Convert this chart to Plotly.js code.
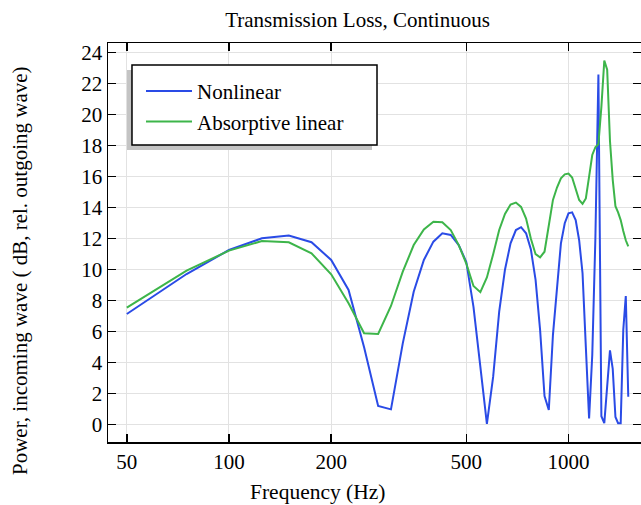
<!DOCTYPE html>
<html>
<head>
<meta charset="utf-8">
<script src="https://cdn.plot.ly/plotly-3.0.1.min.js"></script>
<style>html,body{margin:0;padding:0;background:#fff;}#chart{width:641px;height:505px;}</style>
</head>
<body>
<div id="chart"></div>
<script>
// Frequencies (Hz)
var freq = [50,75,100,125,150,175,200,225,250,275,300,325,350,375,400,425,450,475,500,525,550,575,600,625,650,675,700,725,750,775,800,825,850,875,900,925,950,975,1000,1025,1050,1075,1100,1125,1150,1175,1200,1225,1250,1275,1300,1325,1350,1375,1400,1425,1450,1475,1500];
// Nonlinear (dB)
var nonlinear = [7.14,9.72,11.27,12.03,12.2,11.77,10.63,8.69,5.0,1.21,0.99,5.25,8.58,10.63,11.81,12.35,12.24,11.59,10.5,7.6,3.74,0.05,3.1,7.3,10.0,11.7,12.56,12.74,12.35,11.3,9.34,6.1,1.85,0.95,5.8,9.0,11.7,13.0,13.64,13.7,13.2,11.9,9.77,5.0,0.4,4.5,12.0,22.6,0.55,0.1,2.4,4.8,3.6,0.5,0.1,0.1,6.1,8.3,1.8];
// Absorptive linear (dB)
var absorptive = [7.55,9.94,11.23,11.85,11.77,11.06,9.7,7.83,5.9,5.85,7.66,9.87,11.59,12.6,13.1,13.06,12.56,11.59,10.4,8.95,8.55,9.5,11.0,12.56,13.6,14.2,14.33,14.05,13.3,12.0,11.0,10.8,11.16,12.77,14.5,15.3,15.9,16.15,16.2,15.95,15.2,14.5,14.25,14.6,16.0,17.4,17.9,18.1,20.5,23.5,22.9,18.3,15.8,14.1,13.7,13.2,12.5,11.9,11.5];

var xTicks = [50,100,200,500,1000];
var xTickText = ['50','100','200','500','1000'];
var yTicks = [0,2,4,6,8,10,12,14,16,18,20,22,24];

var serif = 'Liberation Serif, Times New Roman, serif';

var traces = [
  {x: freq, y: nonlinear, type: 'scatter', mode: 'lines', name: 'Nonlinear',
   line: {color: '#2a4be6', width: 2}},
  {x: freq, y: absorptive, type: 'scatter', mode: 'lines', name: 'Absorptive linear',
   line: {color: '#3db54a', width: 2}}
];

var axisCommon = {
  showline: true, linecolor: '#000', linewidth: 1.5, mirror: 'ticks',
  ticks: 'inside', ticklen: 8, tickwidth: 1.5, tickcolor: '#000',
  showgrid: true, gridcolor: '#e2e2e2', gridwidth: 1, zeroline: false,
  tickfont: {family: serif, size: 21, color: '#000'}
};

var layout = {
  width: 641, height: 505,
  margin: {l: 108, r: 0, t: 43, b: 63},
  paper_bgcolor: '#fff', plot_bgcolor: '#fff',
  font: {family: serif, color: '#000'},
  title: {text: 'Transmission Loss, Continuous', font: {family: serif, size: 21, color: '#000'},
          x: 357.5/641, xref: 'container', xanchor: 'center', y: 1 - 20/505, yref: 'container', yanchor: 'middle'},
  xaxis: Object.assign({}, axisCommon, {
    type: 'log', range: [1.6436, 3.2136],
    tickmode: 'array', tickvals: xTicks, ticktext: xTickText
  }),
  yaxis: Object.assign({}, axisCommon, {
    range: [-1.116, 24.626], tickmode: 'array', tickvals: yTicks
  }),
  showlegend: true,
  legend: {x: (141-108)/533, y: 0.930, xanchor: 'left', yanchor: 'top', itemwidth: 46,
           bgcolor: 'rgba(0,0,0,0)', borderwidth: 0,
           font: {family: serif, size: 21, color: '#000'}},
  shapes: [
    {type: 'rect', xref: 'paper', yref: 'paper', x0: 0.0356, x1: 0.4953, y0: 0.7318, y1: 0.9323,
     fillcolor: '#c4c4c4', line: {width: 0}, layer: 'above'},
    {type: 'rect', xref: 'paper', yref: 'paper', x0: 0.045, x1: 0.5047, y0: 0.7444, y1: 0.9449,
     fillcolor: '#fff', line: {color: '#000', width: 1.5}, layer: 'above'}
  ],
  annotations: [
    {text: 'Frequency (Hz)', xref: 'paper', yref: 'paper', x: (317.5-108)/533, y: (442-492)/399,
     xanchor: 'center', yanchor: 'middle', showarrow: false, font: {family: serif, size: 21.5, color: '#000'}},
    {text: 'Power, incoming wave ( dB, rel. outgoing wave)', xref: 'paper', yref: 'paper',
     x: (20-108)/533, y: (442-271)/399, xanchor: 'center', yanchor: 'middle', textangle: -90,
     showarrow: false, font: {family: serif, size: 21, color: '#000'}}
  ]
};

Plotly.newPlot('chart', traces, layout, {displayModeBar: false, staticPlot: true});
</script>
</body>
</html>
